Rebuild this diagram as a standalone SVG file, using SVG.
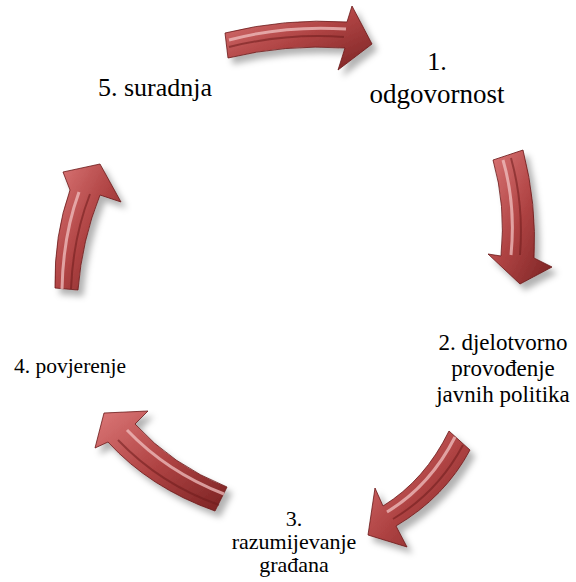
<svg xmlns="http://www.w3.org/2000/svg" width="576" height="582" viewBox="0 0 576 582">
<style>
.lbl{fill:#000;text-anchor:middle}
.body{fill:url(#red);stroke:#6a1818;stroke-width:0.8;filter:url(#sh)}
.hi{fill:none;stroke:#f0c0c0;stroke-width:3;opacity:0.75}
.dk{fill:none;stroke:#6e1c1c;stroke-width:2;opacity:0.55}
</style>
<defs>
<linearGradient id="red" x1="0" y1="0" x2="1" y2="1">
<stop offset="0" stop-color="#dc7878"/>
<stop offset="0.5" stop-color="#b04444"/>
<stop offset="1" stop-color="#7a2222"/>
</linearGradient>
<filter id="sh" x="-30%" y="-30%" width="160%" height="160%">
<feDropShadow dx="5" dy="6" stdDeviation="3" flood-color="#000" flood-opacity="0.3"/>
</filter>
</defs>
<g id="connectors">
<g id="arrow1">
<path class="body" d="M225,33 Q285,18 347,22 L352,6 L372,44 L338,70 L345,48 Q285,44 228,58 Z"/>
<path class="dk" d="M229,47 Q285,33 344,37"/>
<path class="hi" d="M229,40 Q285,25 346,29"/>
</g>
<g id="arrow2">
<path class="body" d="M493,160 L523,150 Q537,205 534,258 L552,267 L520,284 L488,254 L501,256 Q506,205 493,160 Z"/>
<path class="dk" d="M511,158 Q524,205 520,255"/>
<path class="hi" d="M503,160 Q516,205 511,255"/>
</g>
<g id="arrow3">
<path class="body" d="M449,431 L470,450 Q445,497 396,526 L407,547 L368,535 L375,488 L383,506 Q425,480 449,431 Z"/>
<path class="dk" d="M463,445 Q438,492 393,519"/>
<path class="hi" d="M455,437 Q430,486 387,512"/>
</g>
<g id="arrow4">
<path class="body" d="M227,487 Q172,465 135,424 L148,411 L104,413 L95,448 L108,442 Q150,488 215,511 Z"/>
<path class="dk" d="M219,505 Q160,484 118,440"/>
<path class="hi" d="M224,494 Q167,472 127,430"/>
</g>
<g id="arrow5">
<path class="body" d="M55,288 Q54,235 70,190 L63,172 L100,164 L121,202 L100,195 Q82,240 78,290 Z"/>
<path class="dk" d="M71,289 Q73,238 90,194"/>
<path class="hi" d="M62,289 Q63,236 79,192"/>
</g>
</g>
<g id="n1" font-family="Liberation Serif, serif"><text class="lbl" x="437" y="70" font-size="26">1.</text><text class="lbl" x="437" y="103" font-size="27">odgovornost</text></g>
<g id="n2" font-family="Liberation Serif, serif"><text class="lbl" x="503" y="350" font-size="23">2. djelotvorno</text><text class="lbl" x="503" y="376" font-size="23">provođenje</text><text class="lbl" x="503" y="402" font-size="23">javnih politika</text></g>
<g id="n3" font-family="Liberation Serif, serif"><text class="lbl" x="294" y="526" font-size="22">3.</text><text class="lbl" x="294" y="549" font-size="22">razumijevanje</text><text class="lbl" x="294" y="572" font-size="22">građana</text></g>
<g id="n4" font-family="Liberation Serif, serif"><text class="lbl" x="70" y="373" font-size="21.5">4. povjerenje</text></g>
<g id="n5" font-family="Liberation Serif, serif"><text class="lbl" x="155" y="96" font-size="26">5. suradnja</text></g>
</svg>
